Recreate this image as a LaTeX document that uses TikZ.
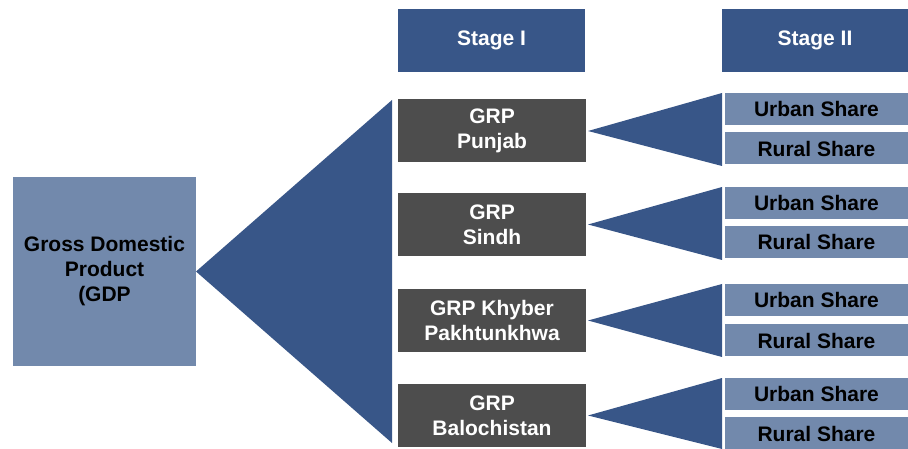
\documentclass[tikz,border=0pt]{standalone}
\usepackage{fontspec}
\setmainfont{Liberation Sans}
\definecolor{dblue}{RGB}{56,86,136}
\definecolor{lblue}{RGB}{114,137,172}
\definecolor{dgray}{RGB}{77,77,77}
\begin{document}
\begin{tikzpicture}[x=1pt,y=-1pt,
  base/.style={inner sep=0pt, outer sep=0pt, align=center, font=\fontsize{21}{25}\selectfont\bfseries},
  header/.style={base, fill=dblue, text=white, minimum width=187, minimum height=63},
  gdpbox/.style={base, fill=lblue, text=black, minimum width=183, minimum height=189},
  regbox/.style={base, fill=dgray, text=white, minimum width=188, minimum height=63},
  sharebox/.style={base, fill=lblue, text=black, minimum width=183, minimum height=32, text height=16pt, text depth=0pt},
  wedge/.style={fill=dblue, draw=none}]
\useasboundingbox (0,0) rectangle (908,449);
% nodes
\node[gdpbox] (gdp) at (104.5,271.5) {Gross Domestic\\Product\\(GDP};
\node[header] (s1) at (491.5,40.5) {Stage I};
\node[header] (s2) at (815,40.5) {Stage II};
\node[regbox] (r1) at (492,131) {GRP\\Punjab};
\node[regbox] (r2) at (492,224.5) {GRP\\Sindh};
\node[regbox] (r3) at (492,320.5) {GRP Khyber\\Pakhtunkhwa};
\node[regbox] (r4) at (492,415.5) {GRP\\Balochistan};
\node[sharebox] (u1) at (816.5,109) {Urban Share};
\node[sharebox] (q1) at (816.5,148.5) {Rural Share};
\node[sharebox] (u2) at (816.5,203) {Urban Share};
\node[sharebox] (q2) at (816.5,242) {Rural Share};
\node[sharebox] (u3) at (816.5,300) {Urban Share};
\node[sharebox] (q3) at (816.5,340) {Rural Share};
\node[sharebox] (u4) at (816.5,393.5) {Urban Share};
\node[sharebox] (q4) at (816.5,433) {Rural Share};
% wedge ends
\coordinate (bt) at (392,100);
\coordinate (bb) at (392,443);
\coordinate (t1a) at (722,93);  \coordinate (t1b) at (722,166);
\coordinate (t2a) at (722,187); \coordinate (t2b) at (722,260);
\coordinate (t3a) at (722,284); \coordinate (t3b) at (722,357);
\coordinate (t4a) at (722,378); \coordinate (t4b) at (722,449);
% wedges
\fill[wedge] (gdp.east) -- (bt) -- (bb) -- cycle;
\fill[wedge] ([xshift=2]r1.east) -- (t1a) -- (t1b) -- cycle;
\fill[wedge] ([xshift=2]r2.east) -- (t2a) -- (t2b) -- cycle;
\fill[wedge] ([xshift=2]r3.east) -- (t3a) -- (t3b) -- cycle;
\fill[wedge] ([xshift=2]r4.east) -- (t4a) -- (t4b) -- cycle;
\end{tikzpicture}
\end{document}
